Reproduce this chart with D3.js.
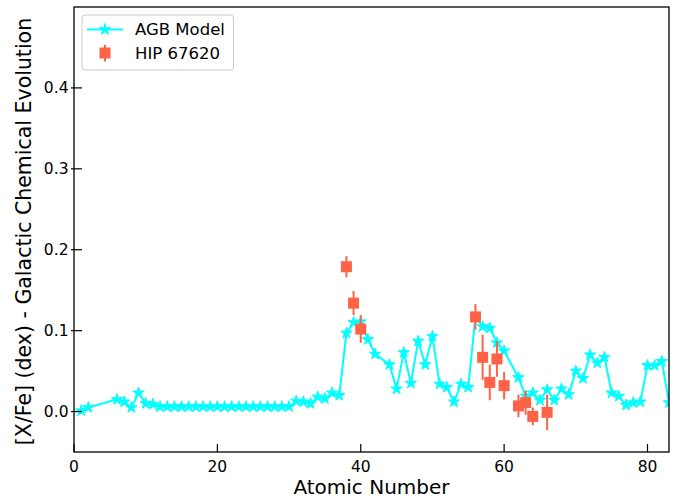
<!DOCTYPE html>
<html><head><meta charset="utf-8">
<script src="https://cdn.jsdelivr.net/npm/d3@7/dist/d3.min.js"></script>
<style>html,body{margin:0;padding:0;background:#fff;}svg{display:block;font-family:"DejaVu Sans",sans-serif;}</style>
</head><body>
<svg id="chart" width="681" height="499"></svg>
<script>
// AGB model (atomic numbers and [X/Fe] values)
const agbZ = [1,2,6,7,8,9,10,11,12,13,14,15,16,17,18,19,20,21,22,23,24,25,26,27,28,29,30,
  31,32,33,34,35,36,37,38,39,40,41,42,44,45,46,47,48,49,50,51,52,53,54,55,56,57,58,59,60,
  62,63,64,65,66,67,68,69,70,71,72,73,74,75,76,77,78,79,80,81,82,83];
const agbVal = [0.001,0.005,0.015,0.012,0.005,0.023,0.010,0.009,0.006,0.006,0.006,0.006,0.006,0.006,0.006,0.006,0.006,0.006,0.006,0.006,0.006,0.006,0.006,0.006,0.006,0.006,0.006,
  0.013,0.012,0.010,0.018,0.016,0.023,0.020,0.097,0.110,0.111,0.089,0.071,0.058,0.028,0.073,0.035,0.087,0.058,0.093,0.034,0.030,0.012,0.034,0.030,0.118,0.105,0.103,0.085,0.075,
  0.042,0.019,0.023,0.014,0.027,0.014,0.028,0.021,0.050,0.041,0.070,0.060,0.067,0.023,0.019,0.008,0.011,0.012,0.057,0.057,0.062,0.011];

// HIP 67620 observations
const obsZ   = [38,39,40,56,57,58,59,60,62,63,64,66];
const obsVal = [0.179,0.134,0.102,0.117,0.067,0.036,0.065,0.032,0.007,0.011,-0.006,-0.001];
const obsErr = [0.013,0.015,0.017,0.016,0.028,0.022,0.022,0.017,0.014,0.015,0.011,0.022];

const xTicks = [0,20,40,60,80];
const yTicks = [0.0,0.1,0.2,0.3,0.4];
const seriesNames = ["AGB Model","HIP 67620"];
const xLabel = "Atomic Number";
const yLabel = "[X/Fe] (dex) - Galactic Chemical Evolution";

const cyan = "#00ffff", tomato = "#ff6347";
const svg = d3.select("#chart");
const L = 74, R = 669, T = 7, B = 452;
const x = d3.scaleLinear().domain([0,83]).range([L,R]);
const y = d3.scaleLinear().domain([-0.05,0.5]).range([B,T]);

svg.append("defs").append("clipPath").attr("id","clip")
  .append("rect").attr("x",L).attr("y",T).attr("width",R-L).attr("height",B-T);

const plot = svg.append("g").attr("clip-path","url(#clip)");
const star = d3.symbol().type(d3.symbolStar).size(40);

plot.append("path").datum(agbZ.map((z,i)=>[z,agbVal[i]]))
  .attr("fill","none").attr("stroke",cyan).attr("stroke-width",2)
  .attr("d", d3.line().x(d=>x(d[0])).y(d=>y(d[1])));
plot.selectAll(".st").data(agbZ.map((z,i)=>[z,agbVal[i]])).join("path")
  .attr("transform",d=>`translate(${x(d[0])},${y(d[1])})`)
  .attr("d",star).attr("fill",cyan).attr("stroke",cyan).attr("stroke-width",1);

const obs = obsZ.map((z,i)=>({z,v:obsVal[i],e:obsErr[i]}));
plot.selectAll(".eb").data(obs).join("line")
  .attr("x1",d=>x(d.z)).attr("x2",d=>x(d.z))
  .attr("y1",d=>y(d.v+d.e)).attr("y2",d=>y(d.v-d.e))
  .attr("stroke",tomato).attr("stroke-width",2);
plot.selectAll(".sq").data(obs).join("rect")
  .attr("x",d=>x(d.z)-5.5).attr("y",d=>y(d.v)-5.5).attr("width",11).attr("height",11)
  .attr("fill",tomato);

// axes frame
svg.append("rect").attr("x",L).attr("y",T).attr("width",R-L).attr("height",B-T)
  .attr("fill","none").attr("stroke","#000").attr("stroke-width",1.3);

// x ticks (inward)
const xa = svg.append("g");
xTicks.forEach(t=>{
  xa.append("line").attr("x1",x(t)).attr("x2",x(t)).attr("y1",B).attr("y2",B-8)
    .attr("stroke","#000").attr("stroke-width",1.2);
  xa.append("text").attr("x",x(t)).attr("y",B+19.5).attr("text-anchor","middle")
    .attr("font-size",15.5).text(d3.format("d")(t));
});
const ya = svg.append("g");
yTicks.forEach(t=>{
  ya.append("line").attr("x1",L-3).attr("x2",L+8).attr("y1",y(t)).attr("y2",y(t))
    .attr("stroke","#000").attr("stroke-width",1.2);
  ya.append("text").attr("x",L-5.5).attr("y",y(t)).attr("dy","0.36em").attr("text-anchor","end")
    .attr("font-size",15.5).text(d3.format(".1f")(t));
});

svg.append("text").attr("x",(L+R)/2).attr("y",494).attr("text-anchor","middle")
  .attr("font-size",20).text(xLabel);
svg.append("text").attr("transform",`translate(31,${(T+B)/2 + 2}) rotate(-90)`)
  .attr("text-anchor","middle").attr("font-size",20.5).text(yLabel);

// legend
const lg = svg.append("g");
lg.append("rect").attr("x",82).attr("y",15).attr("width",151.5).attr("height",55).attr("rx",3)
  .attr("fill","#fff").attr("fill-opacity",0.8).attr("stroke","#cccccc").attr("stroke-width",1);
lg.append("line").attr("x1",87).attr("x2",123).attr("y1",29.5).attr("y2",29.5)
  .attr("stroke",cyan).attr("stroke-width",2);
lg.append("path").attr("transform","translate(105,29.5)").attr("d",star)
  .attr("fill",cyan).attr("stroke",cyan).attr("stroke-width",1);
lg.append("line").attr("x1",105).attr("x2",105).attr("y1",45).attr("y2",61.5)
  .attr("stroke",tomato).attr("stroke-width",2);
lg.append("rect").attr("x",99.5).attr("y",47.5).attr("width",11).attr("height",11).attr("fill",tomato);
lg.append("text").attr("x",135).attr("y",35).attr("font-size",16.5).text(seriesNames[0]);
lg.append("text").attr("x",135).attr("y",59.3).attr("font-size",16.5).text(seriesNames[1]);
</script>
</body></html>
